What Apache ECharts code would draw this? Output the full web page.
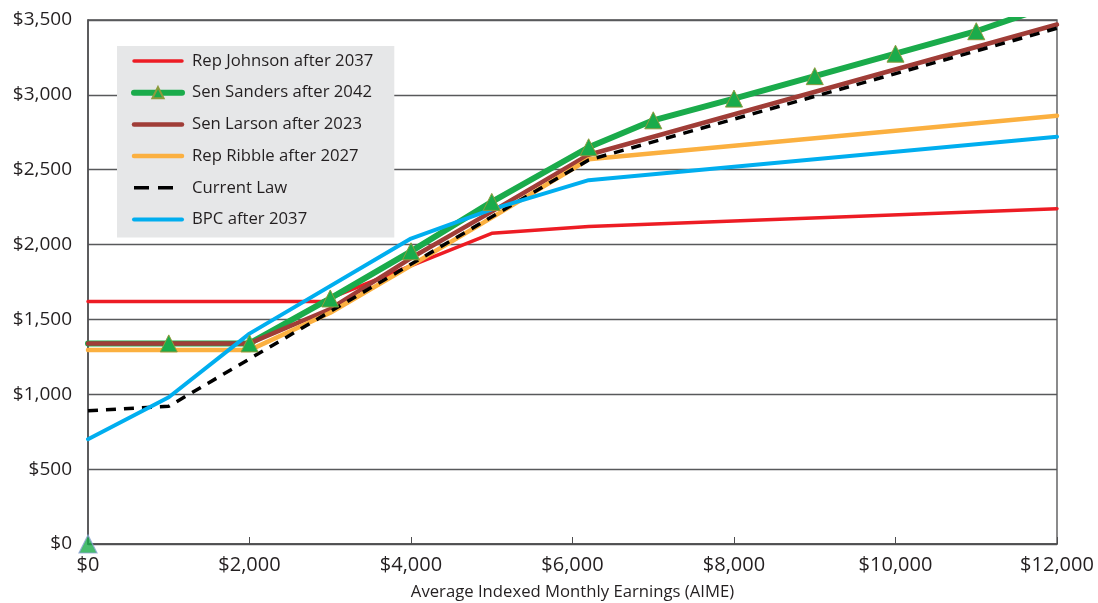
<!DOCTYPE html>
<html>
<head>
<meta charset="utf-8">
<script src="https://cdn.jsdelivr.net/npm/echarts@6/dist/echarts.min.js"></script>
<style>
  html, body { margin: 0; padding: 0; background: #fff; }
  #main { width: 1098px; height: 603px; }
</style>
</head>
<body>
<div id="main"></div>
<script>
// [AIME, monthly benefit] pairs
var johnson = [[0, 1620], [2900, 1620], [5000, 2075], [6200, 2120], [12000, 2240]];
var sanders = [[0, 1340], [1000, 1340], [2000, 1340], [3000, 1640], [4000, 1955], [5000, 2285],
               [6200, 2650], [7000, 2830], [8000, 2975], [9000, 3125], [10000, 3275], [11000, 3425], [12000, 3610]];
var sandersOrigin = [[0, 0]];
var larson = [[0, 1340], [2000, 1340], [3000, 1570], [4000, 1910], [5000, 2220], [6200, 2600], [12000, 3470]];
var ribble = [[0, 1295], [2000, 1295], [3000, 1545], [4000, 1860], [5000, 2180], [6200, 2570], [12000, 2860]];
var currentLaw = [[0, 890], [1000, 920], [6200, 2565], [12000, 3445]];
var bpc = [[0, 700], [1000, 980], [2000, 1405], [4000, 2040], [5000, 2235], [6200, 2430], [12000, 2720]];

var seriesNames = ['Rep Johnson after 2037', 'Sen Sanders after 2042', 'Sen Larson after 2023',
                   'Rep Ribble after 2027', 'Current Law', 'BPC after 2037'];
var xTicks = [0, 2000, 4000, 6000, 8000, 10000, 12000];
var yTicks = [0, 500, 1000, 1500, 2000, 2500, 3000, 3500];

var font = 'Open Sans';
var textColor = '#231f20';

function money(v) {
    return '$' + v.toLocaleString('en-US');
}

function plainLine(name, data, color, width) {
    return {
        name: name,
        type: 'line',
        data: data,
        symbol: 'none',
        lineStyle: { color: color, width: width, cap: 'round', join: 'round' },
        itemStyle: { color: color },
        animation: false
    };
}

// legend entries: only Sanders keeps its marker in the key
var legendData = seriesNames.map(function (n, i) {
    if (i === 1) return { name: n };
    if (i === 4) return { name: n, itemStyle: { opacity: 0 }, lineStyle: { type: [15, 9], cap: 'butt' } };
    return { name: n, itemStyle: { opacity: 0 } };
});

var myChart = echarts.init(document.getElementById('main'));
var option = {
    backgroundColor: '#fff',
    textStyle: { fontFamily: font },
    grid: {
        left: 88, right: 41, top: 20, bottom: 59,
        outerBoundsMode: 'none',
        show: true, borderColor: '#4d4d4f', borderWidth: 1.3
    },
    legend: {
        data: legendData,
        orient: 'vertical',
        left: 117, top: 46,
        backgroundColor: '#e6e7e8',
        padding: [6.5, 21, 9.5, 14],
        itemWidth: 48, itemHeight: 14, itemGap: 14.7,
        lineStyle: { width: 'inherit', cap: 'round' },
        textStyle: { fontFamily: font, fontSize: 16.7, color: textColor, padding: [0, 0, 0, 5] }
    },
    xAxis: {
        type: 'value',
        min: 0, max: 12000, interval: 2000,
        name: 'Average Indexed Monthly Earnings (AIME)',
        nameLocation: 'middle', nameGap: 40,
        nameTextStyle: { fontFamily: font, fontSize: 16.7, color: textColor },
        axisLine: { show: true, lineStyle: { color: '#4d4d4f', width: 1.5 } },
        axisTick: { show: true, inside: true, length: 7, lineStyle: { color: '#4d4d4f' } },
        splitLine: { show: false },
        axisLabel: {
            fontFamily: font, fontSize: 20, color: textColor, margin: 11,
            formatter: function (v) { return xTicks.indexOf(v) >= 0 ? money(v) : ''; }
        }
    },
    yAxis: {
        type: 'value',
        min: 0, max: 3500, interval: 500,
        axisLine: { show: true, lineStyle: { color: '#4d4d4f', width: 1.5 } },
        axisTick: { show: false },
        splitLine: { show: true, lineStyle: { color: '#58595b', width: 1.3 } },
        axisLabel: {
            fontFamily: font, fontSize: 19, color: textColor, margin: 16,
            formatter: function (v) { return yTicks.indexOf(v) >= 0 ? money(v) : ''; }
        }
    },
    series: [
        plainLine(seriesNames[0], johnson, '#ed1c24', 3.5),
        {
            name: seriesNames[1],
            type: 'line',
            data: sanders.map(function (p, i) {
                return i === 0 ? { value: p, symbol: 'none' } : p;
            }),
            symbol: 'triangle',
            symbolSize: 17,
            showAllSymbol: true,
            clip: true,
            lineStyle: { color: '#1aab4b', width: 6, cap: 'round', join: 'round' },
            itemStyle: { color: '#1aab4b', borderColor: '#8c9b3c', borderWidth: 1 },
            animation: false
        },
        {
            type: 'scatter',
            data: sandersOrigin,
            symbol: 'triangle',
            symbolSize: 18,
            clip: false,
            itemStyle: { color: '#1aab4b', borderColor: '#8fa4d4', borderWidth: 1.2 },
            z: 5,
            animation: false
        },
        plainLine(seriesNames[2], larson, '#a03d37', 4.5),
        plainLine(seriesNames[3], ribble, '#fbb040', 4.5),
        {
            name: seriesNames[4],
            type: 'line',
            data: currentLaw,
            symbol: 'none',
            lineStyle: { color: '#000', width: 3.5, type: [10, 8] },
            itemStyle: { color: '#000' },
            animation: false
        },
        plainLine(seriesNames[5], bpc, '#00aeef', 4)
    ]
};
myChart.setOption(option);
</script>
</body>
</html>
